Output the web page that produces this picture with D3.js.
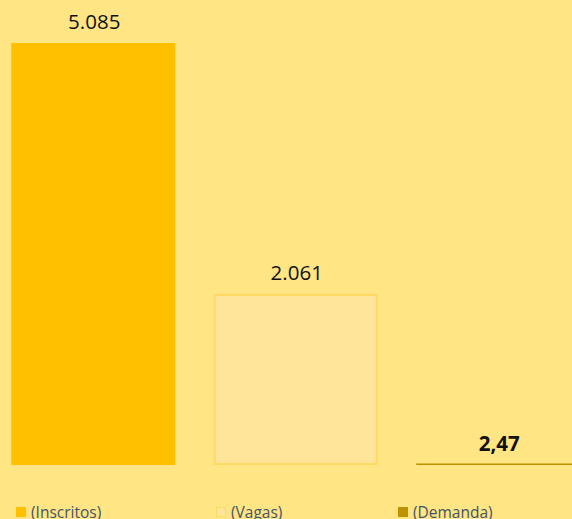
<!DOCTYPE html>
<html><head><meta charset="utf-8">
<script src="https://cdn.jsdelivr.net/npm/d3@7"></script>
<style>html,body{margin:0;padding:0;background:#FFE583;overflow:hidden}</style>
</head><body>
<script>
const categories = ["(Inscritos)", "(Vagas)", "(Demanda)"];
const values = [5085, 2061, 2.47];
const labels = ["5.085", "2.061", "2,47"];

const W = 572, H = 519;
const fills = ["#FFC000", "#FFE599", "#BF9000"];
const strokes = [null, "#FFD966", null];

const svg = d3.select("body").append("svg").attr("width", W).attr("height", H)
  .style("display","block").style("background","#FFE583");

const x = d3.scaleBand().domain(categories).range([-8, 599.5]).paddingInner(0.19).paddingOuter(0.095);
const y = d3.scaleLinear().domain([0, 5085]).range([465, 43]);

svg.selectAll("rect.bar").data(categories).enter().append("rect")
  .attr("class","bar")
  .attr("x", (d,i) => x(d) + (strokes[i] ? 1 : 0))
  .attr("width", (d,i) => x.bandwidth() - (strokes[i] ? 2 : 0))
  .attr("y", (d,i) => Math.min(y(values[i]), y(0) - 1.5) + (strokes[i] ? 1 : 0))
  .attr("height", (d,i) => Math.max(y(0) - y(values[i]), 1.5) - (strokes[i] ? 2 : 0))
  .attr("fill", (d,i) => fills[i])
  .attr("stroke", (d,i) => strokes[i] || "none")
  .attr("stroke-width", 2);

svg.selectAll("text.lbl").data(categories).enter().append("text")
  .attr("class","lbl")
  .attr("x", d => x(d) + x.bandwidth()/2 + 1)
  .attr("y", (d,i) => Math.min(y(values[i]), y(0)) - 14)
  .attr("text-anchor","middle")
  .attr("font-family","'Open Sans', 'Noto Sans', sans-serif")
  .attr("font-size", 20.5)
  .attr("font-weight", (d,i) => i === 2 ? "bold" : "normal")
  .attr("fill","#111")
  .text((d,i) => labels[i]);

const legX = [16, 216, 398];
const leg = svg.selectAll("g.leg").data(categories).enter().append("g")
  .attr("class","leg")
  .attr("transform", (d,i) => `translate(${legX[i]},507)`);
leg.append("rect").attr("x", (d,i)=> strokes[i]?0.5:0).attr("y", (d,i)=> strokes[i]?0.5:0)
  .attr("width", (d,i)=> strokes[i]?9:10).attr("height", (d,i)=> strokes[i]?9:10)
  .attr("fill", (d,i) => fills[i])
  .attr("stroke", (d,i) => strokes[i] || "none").attr("stroke-width", 1);
leg.append("text").attr("x", 15).attr("y", 10.5)
  .attr("font-family","'Open Sans', 'Noto Sans', sans-serif")
  .attr("font-size", 15.5).attr("fill","#44546A")
  .text(d => d);
</script>
</body></html>
